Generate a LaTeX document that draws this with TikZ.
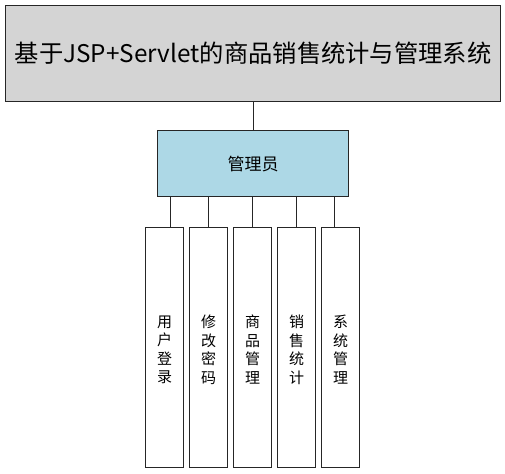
\documentclass[tikz,border=0pt]{standalone}
\usepackage{fontspec}
\newfontfamily\cjk{Noto Sans CJK SC}
\begin{document}
\begin{tikzpicture}[x=1pt,y=-1pt,
  box/.style={draw=black!85,line width=1.3pt,inner sep=0pt,anchor=north west},
  conn/.style={draw=black!85,line width=1.3pt},
  vtext/.style={font=\cjk\fontsize{15}{18.5}\selectfont,align=center}]
\useasboundingbox (0,0) rectangle (505,473);
\node[box,fill=black!17,minimum width=495pt,minimum height=96pt] (top) at (5,5) {};
\node[font=\cjk\fontsize{24.3}{28}\selectfont] (toptxt) at (top.center) {基于JSP+Servlet的商品销售统计与管理系统};
\node[box,fill={rgb,255:red,173;green,216;blue,230},minimum width=191pt,minimum height=66pt] (mgr) at (157,130) {};
\node[font=\cjk\fontsize{17}{20}\selectfont] (mgrtxt) at (mgr.center) {管理员};
\draw[conn] (top.south -| mgr.north) -- (mgr.north);
\foreach \i/\x/\t in {1/145/{用\\户\\登\\录},2/189/{修\\改\\密\\码},3/233/{商\\品\\管\\理},4/277/{销\\售\\统\\计},5/321/{系\\统\\管\\理}}{
  \node[box,fill=white,minimum width=38pt,minimum height=240pt] (b\i) at (\x,227) {};
  \node[vtext] (t\i) at ([yshift=-2pt]b\i.center) {\t};
}
\draw[conn] ([xshift=6pt]b1.north) -- ([xshift=6pt]b1.north |- mgr.south);
\draw[conn] (b2.north) -- (b2.north |- mgr.south);
\draw[conn] (b3.north) -- (b3.north |- mgr.south);
\draw[conn] (b4.north) -- (b4.north |- mgr.south);
\draw[conn] ([xshift=-6pt]b5.north) -- ([xshift=-6pt]b5.north |- mgr.south);
\end{tikzpicture}
\end{document}
